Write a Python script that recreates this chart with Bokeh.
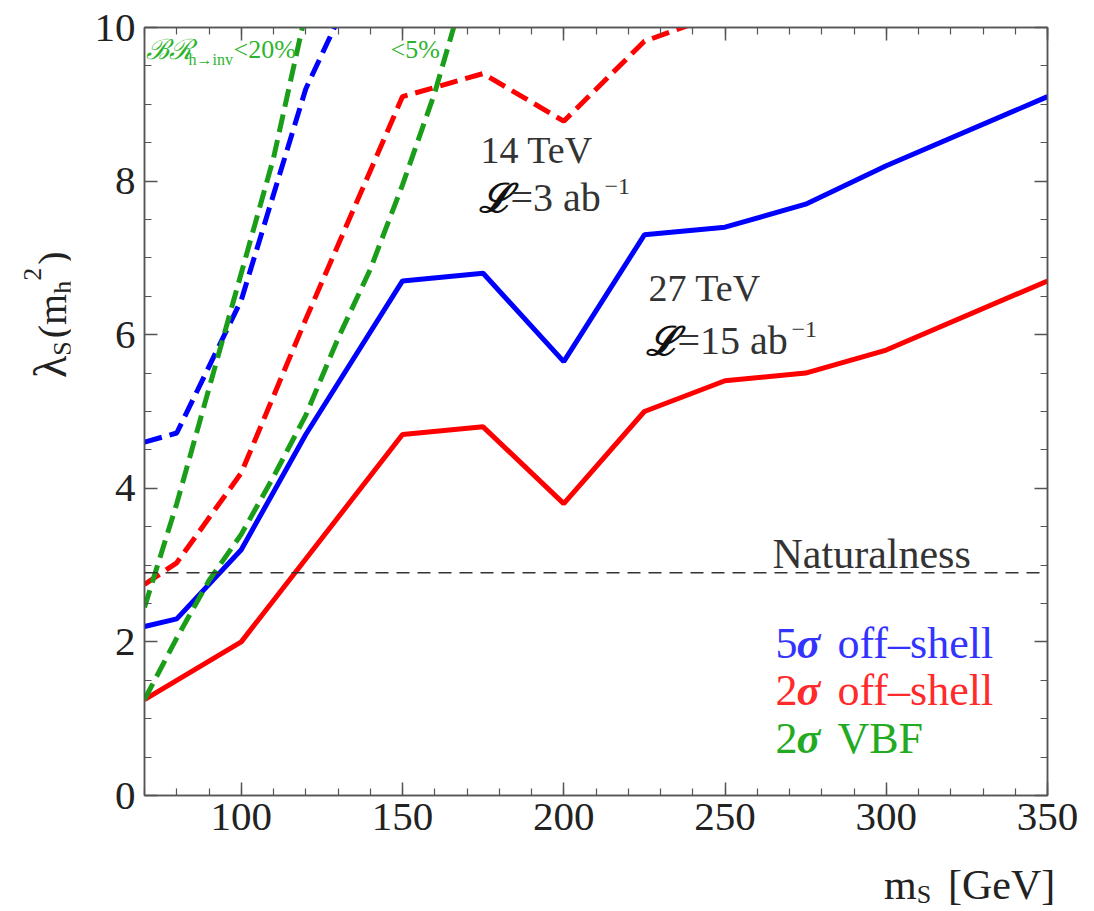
from bokeh.plotting import figure
from bokeh.models import Range1d, FixedTicker, LinearAxis, Label, Span, Div
from bokeh.layouts import row, column
from bokeh.embed import file_html
from bokeh.resources import INLINE

# ---------------- data ----------------
ms_27 = [70, 80, 100, 120, 150, 175, 200, 225, 250, 275, 300, 350]
blue_27_5sigma = [2.2, 2.3, 3.2, 4.7, 6.7, 6.8, 5.65, 7.3, 7.4, 7.7, 8.2, 9.1]
red_27_2sigma = [1.25, 1.5, 2.0, 3.08, 4.7, 4.8, 3.8, 5.0, 5.4, 5.5, 5.8, 6.7]

ms_14_blue = [70, 80, 100, 120, 130]
blue_14_5sigma = [4.6, 4.72, 6.45, 9.2, 10.1]
ms_14_red = [70, 80, 100, 120, 150, 175, 200, 225, 250]
red_14_2sigma = [2.75, 3.03, 4.2, 6.2, 9.1, 9.4, 8.78, 9.82, 10.2]

ms_vbf20 = [70, 80, 90, 100, 110, 120]
vbf_br20 = [2.45, 3.8, 5.3, 6.8, 8.3, 10.2]
ms_vbf5 = [70, 80, 90, 100, 110, 120, 130, 140, 150, 160, 170]
vbf_br5 = [1.25, 2.05, 2.8, 3.4, 4.15, 4.95, 5.95, 6.85, 7.95, 9.15, 10.6]

naturalness = 2.9

x_major = [100, 150, 200, 250, 300, 350]
x_minor = list(range(70, 351, 10))
y_major = [0, 2, 4, 6, 8, 10]
y_minor = [i * 0.5 for i in range(0, 21)]

# ---------------- layout geometry ----------------
FONT = "Liberation Serif"
X0, X1, Y0, Y1 = 70, 350, 0, 10
FL, FT, FW, FH = 144, 27, 903, 768   # frame in page pixels
YDIV_W = 70
TOTAL_W = 1078
FIG_H = 855
XDIV_H = 54


def dx(px):
    return X0 + (px - FL) * (X1 - X0) / FW


def dy(py):
    return Y0 + (FT + FH - py) * (Y1 - Y0) / FH


fig_w = TOTAL_W - YDIV_W
p = figure(width=fig_w, height=FIG_H, x_range=Range1d(X0, X1), y_range=Range1d(Y0, Y1),
           output_backend="svg", toolbar_location=None,
           min_border_left=FL - YDIV_W, min_border_right=fig_w - (FL + FW - YDIV_W),
           min_border_top=FT, min_border_bottom=FIG_H - (FT + FH))
p.xgrid.visible = False
p.ygrid.visible = False
p.background_fill_color = "white"
p.border_fill_color = "white"
p.outline_line_color = "#555555"
p.outline_line_width = 1.5

AX_COL = "#555555"


def style_axis(ax, labels=True):
    ax.axis_line_color = AX_COL
    ax.axis_line_width = 1.5
    ax.major_tick_line_color = AX_COL
    ax.minor_tick_line_color = AX_COL
    ax.major_tick_line_width = 1.5
    ax.minor_tick_line_width = 1.2
    ax.major_tick_in = 13
    ax.major_tick_out = 0
    ax.minor_tick_in = 7
    ax.minor_tick_out = 0
    if labels:
        ax.major_label_text_font = FONT
        ax.major_label_text_font_size = "41px"
        ax.major_label_text_color = "#222222"
    else:
        ax.major_label_text_font_size = "0px"
        ax.major_label_standoff = 0


p.xaxis.ticker = FixedTicker(ticks=x_major, minor_ticks=x_minor)
p.yaxis.ticker = FixedTicker(ticks=y_major, minor_ticks=y_minor)
style_axis(p.xaxis[0])
style_axis(p.yaxis[0])
p.xaxis.major_label_standoff = 8
p.yaxis.major_label_standoff = 9

top_ax = LinearAxis(ticker=FixedTicker(ticks=x_major, minor_ticks=x_minor))
style_axis(top_ax, labels=False)
top_ax.major_label_overrides = {t: "" for t in x_major}
p.add_layout(top_ax, "above")
right_ax = LinearAxis(ticker=FixedTicker(ticks=y_major, minor_ticks=y_minor))
style_axis(right_ax, labels=False)
right_ax.major_label_overrides = {t: "" for t in y_major}
p.add_layout(right_ax, "right")

# ---------------- lines ----------------
BLUE = "#0000ff"
RED = "#ff0000"
GREEN = "#1a9e1a"
DASH = "18 8"
LW = 5

p.line(ms_27, red_27_2sigma, color=RED, line_width=LW)
p.line(ms_27, blue_27_5sigma, color=BLUE, line_width=LW)
p.line(ms_14_red, red_14_2sigma, color=RED, line_width=LW, line_dash=DASH)
p.line(ms_14_blue, blue_14_5sigma, color=BLUE, line_width=LW, line_dash=DASH)
p.line(ms_vbf20, vbf_br20, color=GREEN, line_width=LW, line_dash=DASH)
p.line(ms_vbf5, vbf_br5, color=GREEN, line_width=LW, line_dash=DASH)

p.add_layout(Span(location=naturalness, dimension="width", line_color="#333333",
                  line_width=1.5, line_dash="13 8"))


# ---------------- texts inside the frame ----------------
def lab(px, base, text, size, color="#333333", style="normal", font=FONT):
    # empirical correction so that the glyph baseline lands on `base`
    py = base - 0.33 * size
    p.add_layout(Label(x=dx(px), y=dy(py), text=text, text_font=font,
                       text_font_size=f"{size}px", text_color=color,
                       text_font_style=style, text_align="left",
                       text_baseline="alphabetic"))


TXT = "#333333"
lab(772, 567, "Naturalness", 42, TXT)

lab(480, 162, "14 TeV", 38, TXT)
lab(478, 210, "ℒ", 40, "#111111", "bold italic", "DejaVu Serif")
lab(510, 210, "=3 ab", 40, TXT)
lab(604, 194, "−1", 24, TXT)

lab(648, 300, "27 TeV", 38, TXT)
lab(645, 353, "ℒ", 40, "#111111", "bold italic", "DejaVu Serif")
lab(677, 353, "=15 ab", 40, TXT)
lab(791, 337, "−1", 24, TXT)

LG_BLUE = "#3333ff"
LG_RED = "#ff2a2a"
LG_GREEN = "#22aa22"
for base, num, rest, col in [(658, "5", "off–shell", LG_BLUE),
                             (705, "2", "off–shell", LG_RED),
                             (753, "2", "VBF", LG_GREEN)]:
    lab(775, base, num, 44, col)
    lab(796, base, "σ", 44, col, "bold italic")
    lab(837, base, rest, 44, col)

TG = "#2db42d"
lab(145, 58, "ℬℛ", 28, TG, "italic", "DejaVu Serif")
lab(188, 64, "h→inv", 16, TG)
lab(233, 58, "<20%", 26, TG)
lab(390, 58, "<5%", 26, TG)

# ---------------- axis titles (real SVG text, outside the frame) ----------------
SERIF = "font-family:'Liberation Serif',serif;"
y_title = (
    f'<svg width="{YDIV_W}" height="{FIG_H}" style="display:block;overflow:visible">'
    f'<text transform="translate(66,378) rotate(-90)" style="{SERIF}fill:#222222;font-size:40px">'
    '<tspan style="font-size:46px">λ</tspan>'
    '<tspan style="font-size:26px" dy="5">S</tspan>'
    '<tspan style="font-size:40px" dy="-5" dx="3">(m</tspan>'
    '<tspan style="font-size:26px" dy="5">h</tspan>'
    '<tspan style="font-size:26px" dy="-30">2</tspan>'
    '<tspan style="font-size:40px" dy="25" dx="3">)</tspan>'
    '</text></svg>'
)
x_title = (
    f'<svg width="{TOTAL_W}" height="{XDIV_H}" style="display:block;overflow:visible">'
    f'<text x="884" y="44" style="{SERIF}fill:#222222;font-size:42px">m'
    '<tspan style="font-size:26px" dy="4">S</tspan>'
    '<tspan x="948" dy="-4">[GeV]</tspan>'
    '</text></svg>'
)
ydiv = Div(text=y_title, width=YDIV_W, height=FIG_H, margin=0)
xdiv = Div(text=x_title, width=TOTAL_W, height=XDIV_H, margin=0)

layout = column(row(ydiv, p, spacing=0), xdiv, spacing=0)

open("out.html", "w").write(file_html(layout, INLINE))
